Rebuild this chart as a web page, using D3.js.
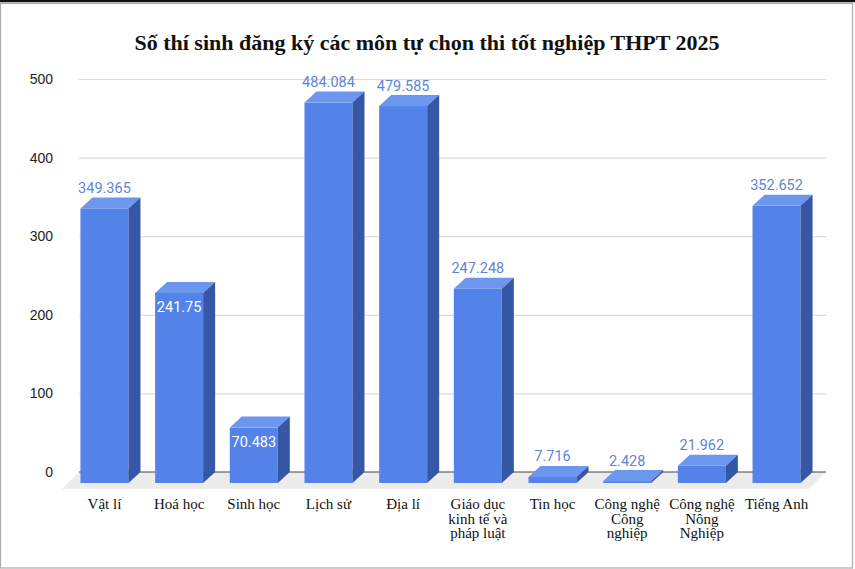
<!DOCTYPE html>
<html>
<head>
<meta charset="utf-8">
<script src="https://cdn.jsdelivr.net/npm/d3@7"></script>
<style>
  body { margin: 0; background: #fff; }
  svg { display: block; }
</style>
</head>
<body>
<div id="chart"></div>
<script>
var width = 855, height = 569;

// data
var subjects = ["Vật lí", "Hoá học", "Sinh học", "Lịch sử", "Địa lí",
  "Giáo dục kinh tế và pháp luật", "Tin học", "Công nghệ Công nghiệp",
  "Công nghệ Nông Nghiệp", "Tiếng Anh"];
var subjectLines = [["Vật lí"], ["Hoá học"], ["Sinh học"], ["Lịch sử"], ["Địa lí"],
  ["Giáo dục", "kinh tế và", "pháp luật"], ["Tin học"], ["Công nghệ", "Công", "nghiệp"],
  ["Công nghệ", "Nông", "Nghiệp"], ["Tiếng Anh"]];
var values = [349.365, 241.75, 70.483, 484.084, 479.585, 247.248, 7.716, 2.428, 21.962, 352.652];
var valueLabels = ["349.365", "241.75", "70.483", "484.084", "479.585", "247.248", "7.716", "2.428", "21.962", "352.652"];
var insideLabels = ["Hoá học", "Sinh học"];
var yTicks = [0, 100, 200, 300, 400, 500];

var depthX = 12, depthY = 11;

var svg = d3.select("#chart").append("svg")
  .attr("width", width)
  .attr("height", height);

// frame
svg.append("rect")
  .attr("x", 0.5).attr("y", 3.5)
  .attr("width", 852).attr("height", 564.5)
  .attr("fill", "#fff")
  .attr("stroke", "#a9a9a9")
  .attr("stroke-width", 1.2);
svg.append("line")
  .attr("x1", 0).attr("x2", width)
  .attr("y1", 1).attr("y2", 1)
  .attr("stroke", "#111")
  .attr("stroke-width", 2.4);

svg.append("text")
  .attr("x", 427)
  .attr("y", 50)
  .attr("text-anchor", "middle")
  .style("font-family", "'Liberation Serif', 'Times New Roman', serif")
  .style("font-weight", "bold")
  .style("font-size", "22px")
  .style("fill", "#111")
  .text("Số thí sinh đăng ký các môn tự chọn thi tốt nghiệp THPT 2025");

var x = d3.scaleBand()
  .domain(subjects)
  .range([79, 826])
  .paddingInner(0.357)
  .paddingOuter(0.18);

var y = d3.scaleLinear()
  .domain([0, 500])
  .range([472, 79]);

// gridlines + y labels
var yAxis = d3.axisLeft(y)
  .tickValues(yTicks)
  .tickSize(-(826 - 79))
  .tickPadding(26)
  .tickFormat(d3.format("d"));

var gy = svg.append("g")
  .attr("transform", "translate(79,0)")
  .call(yAxis);
gy.select(".domain").remove();
gy.selectAll(".tick line")
  .attr("stroke", function(d) { return d === 0 ? "none" : "#dcdcdc"; })
  .attr("stroke-width", 1.2);
gy.selectAll(".tick text")
  .style("font-family", "'Liberation Sans', Arial, sans-serif")
  .style("font-size", "14px")
  .style("fill", "#222");

// floor
var floorDepth = 17;
svg.append("polygon")
  .attr("points", [
    [79, y(0)], [826, y(0)],
    [826 - floorDepth, y(0) + floorDepth], [79 - floorDepth, y(0) + floorDepth]
  ].join(" "))
  .attr("fill", "#ececec");

svg.append("line")
  .attr("x1", 79).attr("x2", 826)
  .attr("y1", y(0)).attr("y2", y(0))
  .attr("stroke", "#444")
  .attr("stroke-width", 1.2);

// 3d bars
var bw = x.bandwidth();
var bars = svg.append("g").selectAll("g")
  .data(subjects)
  .enter()
  .append("g");

bars.each(function(d, i) {
  var g = d3.select(this);
  var x0 = x(d) - depthX;
  var top = y(values[i]) + depthY;
  var bottom = y(0) + depthY;

  g.append("rect")
    .attr("x", x0)
    .attr("y", top)
    .attr("width", bw)
    .attr("height", bottom - top)
    .attr("fill", "#5383e8");

  g.append("polygon")
    .attr("points", [
      [x0, top], [x0 + depthX, top - depthY],
      [x0 + bw + depthX, top - depthY], [x0 + bw, top]
    ].join(" "))
    .attr("fill", "#6d97ef");

  g.append("polygon")
    .attr("points", [
      [x0 + bw, top], [x0 + bw + depthX, top - depthY],
      [x0 + bw + depthX, bottom - depthY], [x0 + bw, bottom]
    ].join(" "))
    .attr("fill", "#3557a6");
});

// value labels
svg.append("g").selectAll("text")
  .data(subjects)
  .enter()
  .append("text")
  .attr("x", function(d) { return x(d) - depthX + bw / 2; })
  .attr("y", function(d, i) {
    return insideLabels.indexOf(d) >= 0 ? y(values[i]) + 30 : y(values[i]) - 4.5;
  })
  .attr("text-anchor", "middle")
  .style("font-family", "Roboto, 'Liberation Sans', sans-serif")
  .style("font-size", "14.5px")
  .style("fill", function(d) { return insideLabels.indexOf(d) >= 0 ? "#ffffff" : "#5f86d6"; })
  .text(function(d, i) { return valueLabels[i]; });

// category labels
var cat = svg.append("g").selectAll("text")
  .data(subjects)
  .enter()
  .append("text")
  .attr("x", function(d) { return x(d) - depthX + bw / 2; })
  .attr("y", 509)
  .attr("text-anchor", "middle")
  .style("font-family", "'Liberation Serif', 'Times New Roman', serif")
  .style("font-size", "15px")
  .style("fill", "#111");

cat.each(function(d, i) {
  var t = d3.select(this);
  subjectLines[i].forEach(function(line, k) {
    t.append("tspan")
      .attr("x", x(d) - depthX + bw / 2)
      .attr("dy", k === 0 ? 0 : 14.6)
      .text(line);
  });
});
</script>
</body>
</html>
